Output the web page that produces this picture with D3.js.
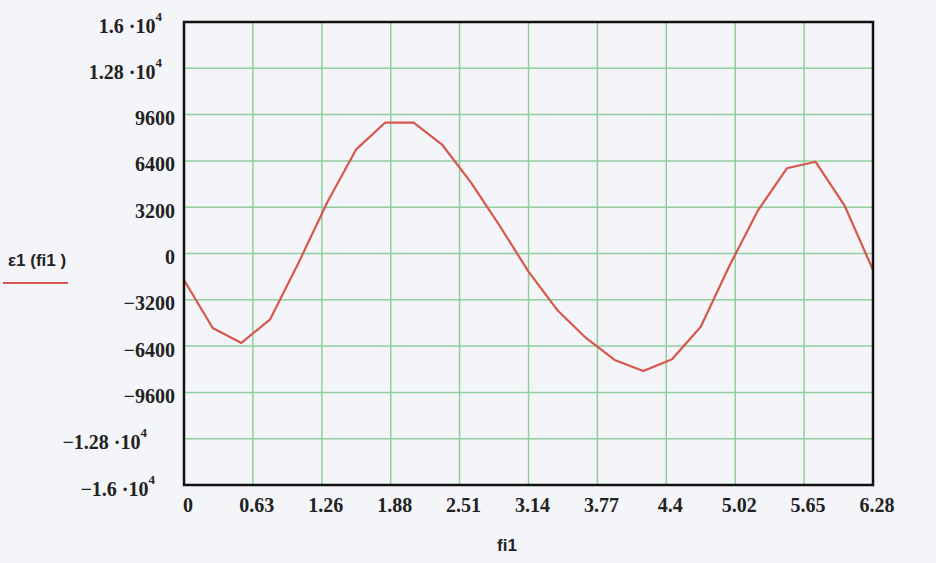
<!DOCTYPE html>
<html>
<head>
<meta charset="utf-8">
<script src="https://cdn.jsdelivr.net/npm/d3@7"></script>
<style>
  html, body { margin: 0; padding: 0; background: #f4f5f9; }
  svg { display: block; }
</style>
</head>
<body>
<svg id="chart" width="936" height="563"></svg>
<script>
// ---- data ----
const seriesName = "ε1 (fi1 )";
const xAxisTitle = "fi1";
const pointCount = 25; // samples of fi1 from 0 to 2π, step 2π/24
const fi1 = [0, 0.2618, 0.5236, 0.7854, 1.0472, 1.3090, 1.5708, 1.8326, 2.0944, 2.3562,
             2.6180, 2.8798, 3.1416, 3.4034, 3.6652, 3.9270, 4.1888, 4.4506, 4.7124, 4.9742,
             5.2360, 5.4978, 5.7596, 6.0214, 6.2832];
const eps1 = [-1830, -5150, -6180, -4550, -600, 3580, 7200, 9040, 9040, 7500,
              4900, 1900, -1250, -3900, -5840, -7360, -8120, -7310, -5060, -850,
              3000, 5890, 6340, 3350, -1140];
const xTicks = [0, 0.628, 1.257, 1.885, 2.513, 3.142, 3.770, 4.398, 5.027, 5.655, 6.283];
const xTickLabels = ["0", "0.63", "1.26", "1.88", "2.51", "3.14", "3.77", "4.4", "5.02", "5.65", "6.28"];
const yTicks = [16000, 12800, 9600, 6400, 3200, 0, -3200, -6400, -9600, -12800, -16000];
const yTickLabels = [["1.6 ·10", "4"], ["1.28 ·10", "4"], ["9600"], ["6400"], ["3200"], ["0"],
                     ["−3200"], ["−6400"], ["−9600"], ["−1.28 ·10", "4"], ["−1.6 ·10", "4"]];

// ---- layout ----
const svg = d3.select("#chart");
const L = 184, R = 873, T = 22, B = 485;
const x = d3.scaleLinear().domain([0, 2 * Math.PI]).range([L, R]);
const y = d3.scaleLinear().domain([-16000, 16000]).range([B, T]);

const gridColor = "#8fcf9c";
const lineColor = "#d9564c";
const serif = "'Liberation Serif', 'Times New Roman', serif";
const sans = "'Liberation Sans', Arial, sans-serif";

svg.append("rect").attr("width", 936).attr("height", 563).attr("fill", "#f4f5f9");

// grid
const grid = svg.append("g");
grid.selectAll("line.v").data(xTicks.slice(1, -1)).join("line")
  .attr("x1", d => x(d)).attr("x2", d => x(d))
  .attr("y1", T).attr("y2", B)
  .attr("stroke", gridColor).attr("stroke-width", 1.5);
grid.selectAll("line.h").data(yTicks.slice(1, -1)).join("line")
  .attr("y1", d => y(d)).attr("y2", d => y(d))
  .attr("x1", L).attr("x2", R)
  .attr("stroke", gridColor).attr("stroke-width", 1.5);

// series line
const line = d3.line().x((d, i) => x(fi1[i])).y(d => y(d));
svg.append("path").datum(eps1.slice(0, pointCount))
  .attr("d", line)
  .attr("fill", "none")
  .attr("stroke", lineColor)
  .attr("stroke-width", 2.2)
  .attr("stroke-linejoin", "round");

// frame
svg.append("rect").attr("x", L).attr("y", T).attr("width", R - L).attr("height", B - T)
  .attr("fill", "none").attr("stroke", "#111").attr("stroke-width", 2.5);

// y tick labels
const yl = svg.append("g").attr("font-family", serif).attr("font-size", 20).attr("font-weight", "bold").attr("fill", "#222");
yTicks.forEach((v, i) => {
  const lab = yTickLabels[i];
  const t = yl.append("text").attr("y", y(v) + 10.5).attr("text-anchor", "end");
  if (lab.length === 1) {
    t.attr("x", 175).text(lab[0]);
  } else {
    const endX = v > 0 ? 162 : (Math.abs(v) === 12800 ? 147 : 155);
    t.attr("x", endX);
    t.append("tspan").text(lab[0]);
    t.append("tspan").attr("font-size", 13).attr("dy", -12).text(lab[1]);
  }
});

// x tick labels
const xl = svg.append("g").attr("font-family", serif).attr("font-size", 20).attr("font-weight", "bold").attr("fill", "#222");
xTicks.forEach((v, i) => {
  xl.append("text").attr("x", x(v) + 4).attr("y", 512).attr("text-anchor", "middle").text(xTickLabels[i]);
});

// axis title
svg.append("text").attr("x", 507).attr("y", 551).attr("text-anchor", "middle")
  .attr("font-family", sans).attr("font-size", 17).attr("font-weight", "bold").attr("fill", "#222")
  .text(xAxisTitle);

// legend
svg.append("text").attr("x", 8).attr("y", 266)
  .attr("font-family", sans).attr("font-size", 17).attr("font-weight", "bold").attr("fill", "#222")
  .text(seriesName);
svg.append("line").attr("x1", 3).attr("x2", 68).attr("y1", 283).attr("y2", 283)
  .attr("stroke", lineColor).attr("stroke-width", 2);
</script>
</body>
</html>
